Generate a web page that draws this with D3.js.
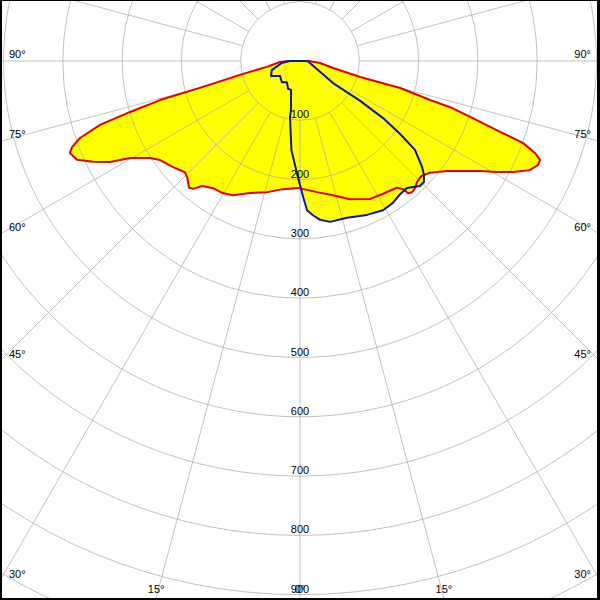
<!DOCTYPE html>
<html><head><meta charset="utf-8">
<script src="https://cdn.jsdelivr.net/npm/d3@7"></script>
<style>html,body{margin:0;padding:0;background:#fff}</style>
</head><body><svg id="c" width="600" height="600"></svg>
<script>
// ---- data (gamma in degrees from nadir; negative = left half-plane) ----
const ringValues = [100,200,300,400,500,600,700,800,900,1000];
const ringLabels = [100,200,300,400,500,600,700,800,900];
const sideAngleLabels = [90,75,60,45,30];
const bottomAngleLabels = [-15,0,15];
const spokeAngles = d3.range(0,360,15);

const redAngles = [-90,-87,-80,-77,-75,-74.4,-73.3,-72.3,-70.7,-69.3,-68.2,-66.1,-64,-62,-60.3,-57.1,-54.7,-50.1,-46,-44.2,-41.2,-39.9,-38.1,-36.4,-34.4,-30.3,-26.6,-20.7,-14.1,-7.6,-0.9,7.4,13.8,19.9,26.9,32,37.4,38.8,39.3,40.5,42.2,44,46.5,49.3,53.2,58.6,60.6,62.5,64.6,66.4,67.6,68.6,69.8,70.5,71.8,72.9,73.3,74.9,75.1,78,84.3,90];
const redValues = [20,34,57,104,175,245,299,354,393,411,418,411,388,363,330,301,289,279,270,273,284,281,268,264,260,258,253,238,228,218,214,223,233,248,261,264,269,277,288,291,289,284,282,289,310,356,381,405,429,438,438,426,401,358,302,265,229,175,105,57,34,15];

const blueAngles = [-90,-83.7,-72.2,-62.6,-53.1,-40.6,-31.8,-23.2,-17.2,-10.4,-10.1,-5.5,-1.0,1.3,2.7,4.8,7.2,10.6,16.7,23.5,29.1,33.2,36.9,40.1,43.8,45.7,47.4,49.0,52.3,53.9,55.5,56.5,56.3,78.7,90];
const blueValues = [17,31,50,55,42,47,42,51,51,84,96,151,196,229,252,261,270,276,276,283,288,286,281,280,292,292,284,273,245,209,170,121,67,17,12];

// ---- layout ----
const W=600,H=600, cx=300, cy=61;
const r = d3.scaleLinear().domain([0,100]).range([0,59.3]);
const rad = d => d*Math.PI/180;
const svg = d3.select('#c');
const fontFam = '"Liberation Sans", Arial, sans-serif';

svg.append('rect').attr('x',0).attr('y',0).attr('width',W).attr('height',H).attr('fill','#000');
svg.append('rect').attr('x',2).attr('y',1).attr('width',595).attr('height',597).attr('fill','#fff');

const clip = svg.append('defs').append('clipPath').attr('id','pc');
clip.append('rect').attr('x',2).attr('y',1).attr('width',595).attr('height',597);

const g = svg.append('g').attr('clip-path','url(#pc)');
const pg = g.append('g').attr('transform',`translate(${cx},${cy})`);

const line = d3.lineRadial()
  .angle(d => Math.PI - rad(d[0]))
  .radius(d => r(d[1]))
  .curve(d3.curveLinearClosed);

const red = redAngles.map((a,i)=>[a,redValues[i]]);
const blue = blueAngles.map((a,i)=>[a,blueValues[i]]);

// fills
pg.append('path').attr('d',line(red)).attr('fill','#ffff00').attr('stroke','none');
pg.append('path').attr('d',line(blue)).attr('fill','#ffff00').attr('stroke','none');

// grid
const grid = pg.append('g').attr('stroke','#a8a8a8').attr('stroke-opacity',0.7).attr('fill','none').attr('stroke-width',1);
ringValues.forEach(v => grid.append('circle').attr('r',r(v)));
spokeAngles.forEach(a => {
  const s=Math.sin(rad(a)), c=Math.cos(rad(a));
  grid.append('line')
    .attr('x1',r(100)*s).attr('y1',r(100)*c)
    .attr('x2',r(1100)*s).attr('y2',r(1100)*c);
});

// outlines
pg.append('path').attr('d',line(red)).attr('fill','none').attr('stroke','#e00000').attr('stroke-width',2).attr('stroke-linejoin','round');
pg.append('path').attr('d',line(blue)).attr('fill','none').attr('stroke','#0a1aa8').attr('stroke-width',2).attr('stroke-linejoin','round');

// labels
const lab = svg.append('g').attr('font-family',fontFam).attr('font-size',11).attr('fill','#000');
ringLabels.forEach(v => lab.append('text').attr('x',cx).attr('y',cy+r(v)-2).attr('text-anchor','middle').text(v));
sideAngleLabels.forEach(a => {
  const y = cy + cx/Math.tan(rad(a)) - 3;
  lab.append('text').attr('x',9).attr('y',y).text(a+'°');
  lab.append('text').attr('x',591).attr('y',y).attr('text-anchor','end').text(a+'°');
});
bottomAngleLabels.forEach(a => {
  const x = cx + (598-cy)*Math.tan(rad(a));
  lab.append('text').attr('x',x).attr('y',593).attr('text-anchor','middle').text(Math.abs(a)+'°');
});
</script></body></html>
